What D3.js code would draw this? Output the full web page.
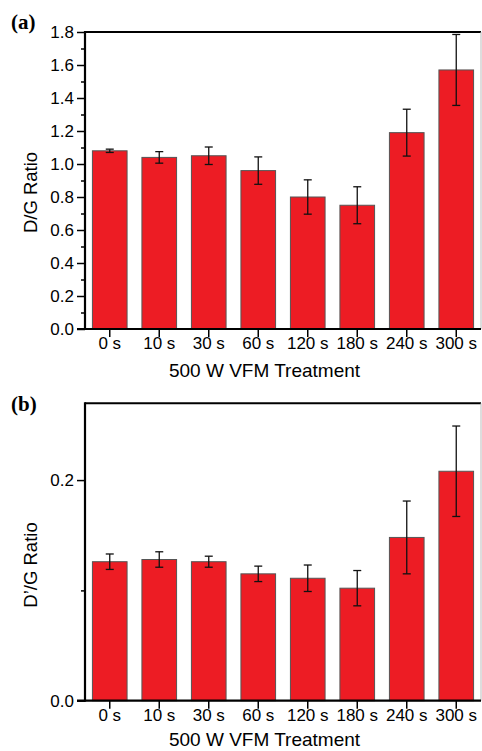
<!DOCTYPE html>
<html>
<head>
<meta charset="utf-8">
<script src="https://cdn.jsdelivr.net/npm/d3@7"></script>
<style>
  body { margin: 0; background: #fff; }
  text { font-family: "Liberation Sans", Arial, sans-serif; fill: #000; }
</style>
</head>
<body>
<svg id="chart" width="482" height="751"></svg>
<script>
// treatment times (shared by both panels)
const categories = ["0 s", "10 s", "30 s", "60 s", "120 s", "180 s", "240 s", "300 s"];

// panel (a): D/G ratio with error
const dgRatio = [1.08, 1.04, 1.05, 0.96, 0.80, 0.75, 1.19, 1.57];
const dgError = [0.01, 0.035, 0.053, 0.083, 0.104, 0.112, 0.142, 0.215];
const dgTicks = [0, 0.2, 0.4, 0.6, 0.8, 1.0, 1.2, 1.4, 1.6, 1.8];
const dgMinor = [0.1, 0.3, 0.5, 0.7, 0.9, 1.1, 1.3, 1.5, 1.7];

// panel (b): D'/G ratio with error
const dpgRatio = [0.126, 0.128, 0.126, 0.115, 0.111, 0.102, 0.148, 0.208];
const dpgError = [0.007, 0.007, 0.005, 0.007, 0.012, 0.016, 0.033, 0.041];
const dpgTicks = [0, 0.2];
const dpgMinor = [0.1];

const svg = d3.select("#chart");
const left = 85, right = 481;

function drawPanel(opt) {
  const g = svg.append("g");

  const x = d3.scaleBand()
    .domain(categories)
    .range([left, right])
    .paddingInner(0.3)
    .paddingOuter(0.15);

  const y = d3.scaleLinear()
    .domain(opt.domain)
    .range([opt.bottom, opt.top]);

  const rows = categories.map((c, i) => ({ c, v: opt.values[i], e: opt.errors[i] }));

  // bars
  g.append("g")
    .selectAll("rect")
    .data(rows)
    .join("rect")
      .attr("x", d => x(d.c))
      .attr("y", d => y(d.v))
      .attr("width", x.bandwidth())
      .attr("height", d => y(0) - y(d.v))
      .attr("fill", "#ed1c24")
      .attr("stroke", "#555")
      .attr("stroke-width", 1);

  // error bars
  const err = g.append("g")
    .attr("stroke", "#111")
    .attr("stroke-width", 1.3);
  rows.forEach(d => {
    const cx = x(d.c) + x.bandwidth() / 2;
    err.append("line").attr("x1", cx).attr("x2", cx).attr("y1", y(d.v + d.e)).attr("y2", y(d.v - d.e));
    err.append("line").attr("x1", cx - 4).attr("x2", cx + 4).attr("y1", y(d.v + d.e)).attr("y2", y(d.v + d.e));
    err.append("line").attr("x1", cx - 4).attr("x2", cx + 4).attr("y1", y(d.v - d.e)).attr("y2", y(d.v - d.e));
  });

  // frame: top and right
  g.append("line")
    .attr("x1", left).attr("x2", right)
    .attr("y1", opt.top).attr("y2", opt.top)
    .attr("stroke", "#000").attr("stroke-width", 2);
  g.append("line")
    .attr("x1", right).attr("x2", right)
    .attr("y1", opt.top).attr("y2", opt.bottom)
    .attr("stroke", "#bbb").attr("stroke-width", 1);

  // y axis, minor ticks first
  g.append("g")
    .attr("transform", `translate(${left},0)`)
    .call(d3.axisLeft(y).tickValues(opt.minor).tickSize(4).tickFormat(""))
    .call(a => a.select(".domain").remove())
    .selectAll("line").attr("stroke", "#000").attr("stroke-width", 1.5);

  const yAxis = g.append("g")
    .attr("transform", `translate(${left},0)`)
    .call(d3.axisLeft(y).tickValues(opt.ticks).tickSize(8).tickPadding(3).tickFormat(d3.format(".1f")));
  yAxis.select(".domain").remove();
  yAxis.selectAll("line").attr("stroke", "#000").attr("stroke-width", 1.5);
  yAxis.selectAll("text").style("font-size", "17px").attr("fill", "#000");

  g.append("line")
    .attr("x1", left).attr("x2", left)
    .attr("y1", opt.top - 1).attr("y2", opt.bottom + 1)
    .attr("stroke", "#000").attr("stroke-width", 2.2);

  // x axis
  const xAxis = g.append("g")
    .attr("transform", `translate(0,${opt.bottom})`)
    .call(d3.axisBottom(x).tickSize(8).tickPadding(0));
  xAxis.select(".domain").remove();
  xAxis.selectAll("line").attr("stroke", "#000").attr("stroke-width", 1.5);
  xAxis.selectAll("text").style("font-size", "17px").attr("fill", "#000");

  g.append("line")
    .attr("x1", left - 8).attr("x2", right)
    .attr("y1", opt.bottom).attr("y2", opt.bottom)
    .attr("stroke", "#000").attr("stroke-width", 2.2);

  // titles
  g.append("text")
    .attr("x", 264.5)
    .attr("y", opt.xTitleY)
    .attr("text-anchor", "middle")
    .style("font-size", "19px")
    .text("500 W VFM Treatment");

  g.append("text")
    .attr("transform", `translate(36.5,${opt.yTitleY}) rotate(-90)`)
    .attr("text-anchor", "middle")
    .style("font-size", "18.5px")
    .text(opt.yTitle);

  g.append("text")
    .attr("x", 11)
    .attr("y", opt.labelY)
    .style("font-family", "'Liberation Serif', 'Times New Roman', serif")
    .style("font-weight", "bold")
    .style("font-size", "21px")
    .text(opt.label);
}

drawPanel({
  label: "(a)", labelY: 29,
  top: 32, bottom: 329,
  domain: [0, 1.8],
  values: dgRatio, errors: dgError,
  ticks: dgTicks, minor: dgMinor,
  yTitle: "D/G Ratio", yTitleY: 192.5,
  xTitleY: 377
});

drawPanel({
  label: "(b)", labelY: 411,
  top: 403.3, bottom: 700.7,
  domain: [0, 0.2696],
  values: dpgRatio, errors: dpgError,
  ticks: dpgTicks, minor: dpgMinor,
  yTitle: "D\u2019/G Ratio", yTitleY: 565,
  xTitleY: 746
});
</script>
</body>
</html>
